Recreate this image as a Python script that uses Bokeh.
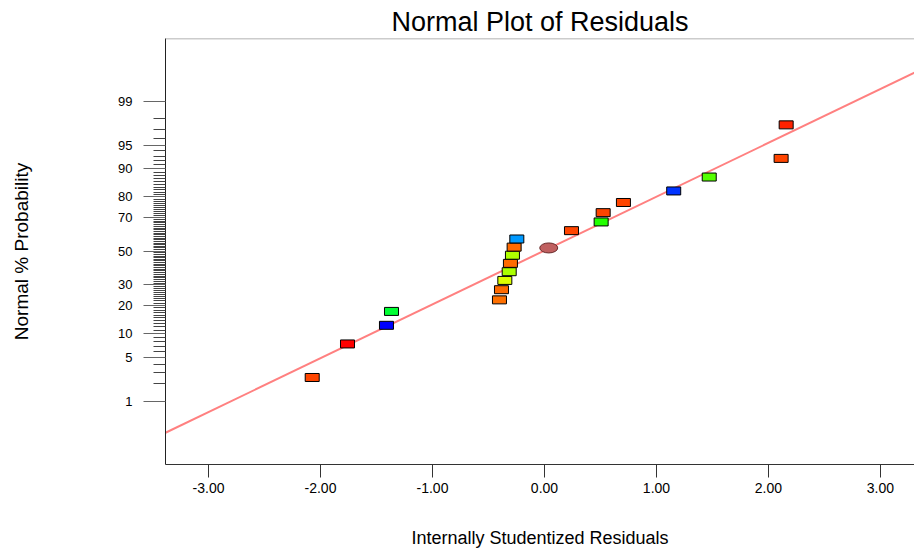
from statistics import NormalDist
from bokeh.plotting import figure
from bokeh.models import Range1d, FixedTicker, NumeralTickFormatter, Span, ColumnDataSource
from bokeh.embed import file_html
from bokeh.resources import INLINE

# ---- data ----
residuals = [-2.074, -1.759, -1.411, -1.366, -0.402, -0.384, -0.354, -0.315, -0.304, -0.286,
             -0.271, -0.247, 0.241, 0.506, 0.524, 0.705, 1.154, 1.471, 2.113, 2.158]
probabilities = [2.5, 7.5, 12.5, 17.5, 22.5, 27.5, 32.5, 37.5, 42.5, 47.5,
                 52.5, 57.5, 62.5, 67.5, 72.5, 77.5, 82.5, 87.5, 92.5, 97.5]
point_colors = ["#FF4500", "#FF0000", "#0000FF", "#00FF33", "#FF7000", "#FF6A00", "#DDFF00", "#AAFF00",
                "#FF6A00", "#B0FF00", "#FF6A00", "#0099FF", "#FF4500", "#22FF00", "#FF4500", "#FF4500",
                "#0033FF", "#55FF00", "#FF4500", "#FF2200"]
circle_residual = [0.038]
circle_probability = [52.0]
line_residuals = [-3.384, 3.304]
line_probabilities = [0.242, 99.72]
major_prob_ticks = [1, 5, 10, 20, 30, 50, 70, 80, 90, 95, 99]
minor_prob_ticks = [v for v in range(1, 100) if v not in major_prob_ticks]
x_ticks = [-3, -2, -1, 0, 1, 2, 3]
title_text = "Normal Plot of Residuals"
x_label_text = "Internally Studentized Residuals"
y_label_text = "Normal % Probability"

nd = NormalDist()
def z(p):
    return nd.inv_cdf(p / 100.0)

FONT = "Liberation Sans"
X0, X1 = -3.384, 3.304
Y0, Y1 = -3.31, 3.30

p = figure(width=914, height=552, output_backend="svg", toolbar_location=None,
           x_range=Range1d(X0, X1), y_range=Range1d(Y0, Y1),
           min_border_left=165, min_border_right=0, min_border_top=38, min_border_bottom=88,
           title=title_text)
p.outline_line_color = None
p.grid.visible = False
p.background_fill_color = "white"
p.border_fill_color = "white"

p.title.align = "center"
p.title.text_font = FONT
p.title.text_font_size = "27px"
p.title.text_font_style = "normal"
p.title.text_color = "black"
p.title.standoff = 4

# top frame line
p.add_layout(Span(location=Y1, dimension="width", line_color="#999999", line_width=1.5))

# fit line
p.line(line_residuals, [z(v) for v in line_probabilities], line_color="#FF8080", line_width=2)

src = ColumnDataSource(dict(x=residuals, y=[z(v) for v in probabilities], c=point_colors))
p.rect("x", "y", width=14, height=8, width_units="screen", height_units="screen",
       source=src, fill_color="c", line_color="black", line_width=1)

p.ellipse(circle_residual, [z(v) for v in circle_probability], width=18, height=10,
          width_units="screen", height_units="screen",
          fill_color="#C06060", line_color="#6A2A2A", line_width=1)

# x axis
xa = p.xaxis[0]
xa.ticker = FixedTicker(ticks=x_ticks)
xa.formatter = NumeralTickFormatter(format="0.00")
xa.major_tick_out = 13
xa.major_tick_in = 0
xa.minor_tick_line_color = None
xa.axis_line_color = "#333333"
xa.major_tick_line_color = "#333333"
xa.major_label_text_font = FONT
xa.major_label_text_font_size = "14px"
xa.major_label_text_color = "black"
xa.major_label_standoff = 5
xa.axis_label = x_label_text
xa.axis_label_text_font = FONT
xa.axis_label_text_font_size = "18px"
xa.axis_label_text_font_style = "normal"
xa.axis_label_text_color = "black"
xa.axis_label_standoff = 32

# y axis (normal probability scale)
ya = p.yaxis[0]
ya.ticker = FixedTicker(ticks=[z(v) for v in major_prob_ticks],
                        minor_ticks=[z(v) for v in minor_prob_ticks])
ya.major_label_overrides = {z(v): str(v) for v in major_prob_ticks}
ya.major_tick_out = 22
ya.major_tick_in = 0
ya.minor_tick_out = 12
ya.minor_tick_in = 0
ya.axis_line_color = "#222222"
ya.major_tick_line_color = "#666666"
ya.minor_tick_line_color = "#444444"
ya.major_label_text_font = FONT
ya.major_label_text_font_size = "13px"
ya.major_label_text_color = "black"
ya.major_label_standoff = 11
ya.major_label_orientation = "horizontal"
ya.axis_label = y_label_text
ya.axis_label_text_font = FONT
ya.axis_label_text_font_size = "19px"
ya.axis_label_text_font_style = "normal"
ya.axis_label_text_color = "black"
ya.axis_label_standoff = 83

open("out.html", "w").write(file_html(p, INLINE))
